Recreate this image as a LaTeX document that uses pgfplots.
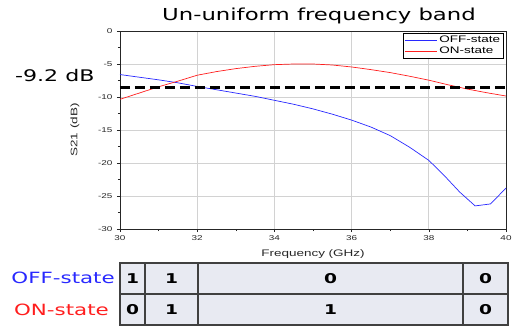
\documentclass[border=0pt]{standalone}
\usepackage{pgfplots}
\pgfplotsset{compat=1.18}
\usepackage{fontspec}
\setmainfont{Liberation Sans}[FakeStretch=1.42]
\newfontfamily\bigfont{DejaVu Sans}[FakeStretch=1.38]
\definecolor{offblue}{RGB}{40,40,255}
\definecolor{onred}{RGB}{255,30,30}
\definecolor{cellfill}{RGB}{232,234,242}
\begin{document}
\begin{tikzpicture}[x=1pt,y=1pt]
\useasboundingbox (-120,-98) rectangle (397,229);
\begin{axis}[
  at={(0,0)}, anchor=south west,
  scale only axis, width=386pt, height=198pt,
  xmin=30, xmax=40, ymin=-30, ymax=0,
  xtick={30,32,...,40}, ytick={-30,-25,...,0},
  minor x tick num=1, minor y tick num=1,
  xtick pos=bottom, ytick pos=left, tick align=outside,
  major tick length=3pt, minor tick length=2pt,
  grid=major, major grid style={gray!35, line width=0.8pt},
  axis line style={black!85, line width=0.6pt},
  tick style={black!85, line width=0.6pt},
  /pgf/number format/assume math mode=true,
  ticklabel style={font=\fontsize{7}{8}\selectfont, text=black!85},
  xticklabel style={yshift=0pt},
  yticklabel style={xshift=-1pt},
  xlabel={Frequency (GHz)}, ylabel={S21 (dB)},
  label style={font=\fontsize{9.5}{10}\selectfont, text=black!85},
  xlabel style={yshift=-2pt},
  ylabel style={yshift=12pt},
  legend style={font=\fontsize{9.5}{9.5}\selectfont, inner sep=1pt, row sep=-1.5pt,
    at={(0.993,0.99)}, anchor=north east, line width=0.5pt},
  legend cell align=left,
  legend image code/.code={\draw[#1, line width=0.7pt] (0pt,0pt) -- (32pt,0pt);},
  clip=false,
]
\addplot[color=offblue, line width=0.7pt] coordinates {
(30,-6.6) (30.5,-7.0) (31,-7.4) (31.5,-7.85) (32,-8.4) (32.5,-8.9) (33,-9.4) (33.5,-9.9) (34,-10.5) (34.5,-11.1) (35,-11.8) (35.5,-12.6) (36,-13.5) (36.5,-14.55) (37,-15.85) (37.5,-17.6) (38,-19.6) (38.4,-21.9) (38.8,-24.4) (39.2,-26.5) (39.6,-26.2) (40,-23.8)};
\addlegendentry{OFF-state}
\addplot[color=onred, line width=0.7pt] coordinates {
(30,-10.35) (30.5,-9.4) (31,-8.45) (31.5,-7.6) (32,-6.7) (32.5,-6.15) (33,-5.7) (33.5,-5.35) (34,-5.1) (34.5,-5.0) (35,-5.0) (35.5,-5.15) (36,-5.45) (36.5,-5.85) (37,-6.3) (37.5,-6.85) (38,-7.45) (38.5,-8.15) (39,-8.8) (39.5,-9.35) (40,-9.85)};
\addlegendentry{ON-state}
\addplot[black, line width=2.4pt, dash pattern=on 10pt off 5pt, forget plot] coordinates {(30,-8.55) (40,-8.55)};
\end{axis}
% title and annotation
\node[font=\bigfont\fontsize{16.5}{18}\selectfont, anchor=base, inner sep=0pt] at (199,208) {Un-uniform frequency band};
\node[font=\bigfont\fontsize{16}{18}\selectfont, anchor=base west, inner sep=0pt] at (-105,147) {-9.2 dB};
% state table
\fill[cellfill] (0,-34) rectangle (388,-96);
\draw[black!75, line width=1.2pt] (0,-34) rectangle (388,-96);
\draw[black!75, line width=1.2pt] (0,-65) -- (388,-65);
\foreach \xx in {25,78,343} {\draw[black!75, line width=1.2pt] (\xx,-34) -- (\xx,-96);}
\begin{scope}[every node/.style={font=\bigfont\bfseries\fontsize{13.5}{15}\selectfont, anchor=base, inner sep=0pt}]
\node at (12.5,-54) {1}; \node at (51.5,-54) {1}; \node at (210.5,-54) {0}; \node at (365.5,-54) {0};
\node at (12.5,-85) {0}; \node at (51.5,-85) {1}; \node at (210.5,-85) {1}; \node at (365.5,-85) {0};
\end{scope}
\node[font=\bigfont\fontsize{15.5}{18}\selectfont, text=offblue, anchor=base east, inner sep=0pt] at (-5,-54) {OFF-state};
\node[font=\bigfont\fontsize{15.5}{18}\selectfont, text=onred, anchor=base east, inner sep=0pt] at (-11,-86) {ON-state};
\end{tikzpicture}
\end{document}
